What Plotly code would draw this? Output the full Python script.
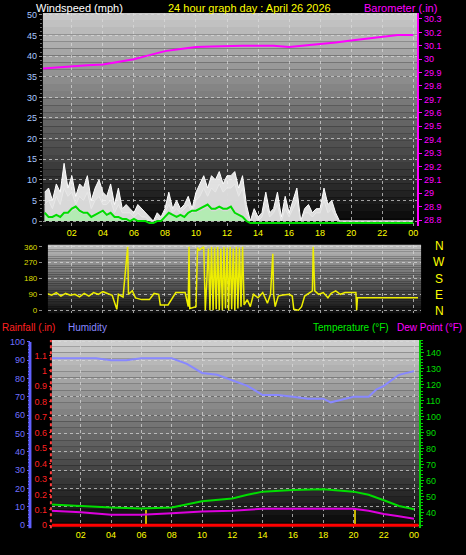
import plotly.graph_objects as go
import numpy as np

# ---------------- data ----------------
wind_t = [0.25*i for i in range(1, 97)]
gust = [7,8,5,9,7,14,8,11,6,9,8,11,
        5,8,10,7,6,9,4,8,3,4,3,2,
        4,3,2,1,0,2,1,3,7,3,5,3,
        4,6,3,7,9,11,8,11,10,12,9,11,
        11,12,8,11,4,0,3,1,2,7,2,3,
        7,1,6,2,5,8,0,3,4,2,3,3,
        8,4,5,2,0,0,0,0,0,0,0,0,
        0,0,0,0,0,0,0,0,0,0,0,0]
speed = [4,5,3,6,4,8,6,7,4,6,5,7,
         3,5,6,4,4,5,2,4,2,2,2,1,
         2,1,1,0,0,1,0,2,4,2,3,2,
         3,4,2,5,6,8,6,8,7,9,7,8,
         8,9,6,8,2,0,2,0,1,4,1,2,
         4,0,3,1,3,5,0,2,2,1,2,2,
         5,2,3,1,0,0,0,0,0,0,0,0,
         0,0,0,0,0,0,0,0,0,0,0,0]
avg = [2,1,1,1.5,1,2,2,3,3.5,2.5,2,2,
       1,1.5,2,2.5,1.5,2,1,1,0.5,0.5,0,0.5,
       0,0,0,-0.5,-0.5,0,0,1,2,1.5,1,1.5,
       1,2,2.5,2.5,3,3.5,4,3,3,3.5,3,3,
       3.5,2,1.5,1,0,-0.5,-0.5,-0.5,-0.5,-0.5,-0.5,-0.5,
       -0.5,-0.5,-0.5,-0.5,-0.5,-0.5,-0.5,-0.5,-0.5,-0.5,-0.5,-0.5,
       -0.5,-0.5,-0.5,-0.5,-0.5,-0.5,-0.5,-0.5,-0.5,-0.5,-0.5,-0.5,
       -0.5,-0.5,-0.5,-0.5,-0.5,-0.5,-0.5,-0.5,-0.5,-0.5,-0.5,-0.5]

baro_t = list(range(0, 25))
baro = [29.93,29.94,29.95,29.955,29.96,29.98,30.0,30.03,30.06,30.075,30.09,30.095,30.1,
        30.1,30.1,30.1,30.09,30.1,30.11,30.125,30.14,30.155,30.17,30.18,30.18]

dir_t = [0.1,0.4,0.7,1.0,1.3,1.6,1.9,2.2,2.5,2.8,3.1,3.4,3.7,4.0,4.3,4.6,4.9,5.0,5.3,5.6,5.65,5.9,
         6.1,6.5,7.0,7.3,7.6,7.7,8.2,8.5,8.7,9.3,9.5,9.55,9.6,10.0,10.1,10.2,10.5,10.6,10.8,10.9,
         11.0,11.1,11.2,11.3,11.4,11.5,11.6,11.7,11.8,11.9,12.0,12.1,12.2,12.3,12.4,12.5,12.6,12.7,
         12.8,12.9,13.0,13.1,13.3,13.5,13.7,14.0,14.3,14.6,14.8,14.95,15.0,15.1,15.3,15.5,16.0,16.2,
         16.3,16.6,16.8,17.0,17.3,17.5,17.55,17.65,17.9,18.2,18.5,18.7,19.0,19.3,19.6,20.0,20.3,20.35,
         20.4,24.3]
wind_dir = [80,95,85,100,80,95,85,90,75,95,80,100,90,105,95,85,5,90,75,360,90,110,
            70,60,60,95,90,30,30,70,100,100,20,360,10,20,355,340,360,0,350,0,
            360,0,355,5,360,0,350,0,360,10,355,0,360,5,350,0,360,10,
            355,20,360,30,60,20,90,70,100,40,90,320,90,20,80,85,90,80,
            5,0,20,80,100,110,360,110,90,100,70,95,110,90,100,100,100,0,
            70,70]

hum_t = [0,1,2,3,4,5,6,7,8,9,10,11,12,13,14,15,16,17,18,18.5,19,20,21,21.5,22,23,24]
humidity = [91,91,91,91,90,90,91,91,91,88,83,82,79,76,71,71,70,69,69,67,68,70,70,74,76,82,84]

td_t = [0,2,4,6,8,10,12,13,14,16,18,20,21,22,23,24]
temperature = [45,44,43,42.5,43,47,48.7,51,53,54,54.5,53,51,47.6,44,42]
dewpoint = [41,40,38.5,38.5,39.5,40.6,41,41.5,42.3,42.3,42.3,42.3,41,39,37.5,36]

rain_t = [0.1, 24.3]
rainfall = [0, 0]
event_hours = [6.3, 20.1]
event_level = [0.1, 0.1]

tick_vals = [2,4,6,8,10,12,14,16,18,20,22,24]
tick_text = ["02","04","06","08","10","12","14","16","18","20","22","00"]

# ---------------- figure ----------------
W, H = 466, 555
FONT = "Liberation Sans"
def py(p):
    return 1 - p / H
def px(p):
    return p / W

fig = go.Figure()

fig.add_trace(go.Scatter(x=wind_t, y=gust, mode="lines", line=dict(color="white", width=1),
                         fill="tozeroy", fillcolor="rgba(245,245,245,0.9)", xaxis="x", yaxis="y", hoverinfo="skip"))
fig.add_trace(go.Scatter(x=wind_t, y=speed, mode="lines", line=dict(color="#e8e8e8", width=1),
                         fill="tozeroy", fillcolor="rgba(215,215,215,0.9)", xaxis="x", yaxis="y"))
fig.add_trace(go.Scatter(x=wind_t, y=[max(a, 0) * 0.8 for a in avg], mode="lines", line=dict(color="#a0e8a0", width=0),
                         fill="tozeroy", fillcolor="rgba(170,240,170,0.8)", xaxis="x", yaxis="y"))
fig.add_trace(go.Scatter(x=wind_t, y=avg, mode="lines", line=dict(color="#00dd00", width=2),
                         xaxis="x", yaxis="y"))
fig.add_trace(go.Scatter(x=baro_t, y=baro, mode="lines", line=dict(color="#ff00ff", width=2),
                         xaxis="x", yaxis="y2"))
fig.add_trace(go.Scatter(x=dir_t, y=wind_dir, mode="lines", line=dict(color="#eeee00", width=1.5),
                         xaxis="x2", yaxis="y3"))
fig.add_trace(go.Scatter(x=hum_t, y=humidity, mode="lines", line=dict(color="#8888ff", width=2),
                         xaxis="x3", yaxis="y4"))
fig.add_trace(go.Scatter(x=td_t, y=temperature, mode="lines", line=dict(color="#00dd00", width=2),
                         xaxis="x3", yaxis="y6"))
fig.add_trace(go.Scatter(x=td_t, y=dewpoint, mode="lines", line=dict(color="#dd00dd", width=2),
                         xaxis="x3", yaxis="y6"))
fig.add_trace(go.Bar(x=event_hours, y=event_level, width=0.08, marker=dict(color="#c8b400", line=dict(width=0)),
                     xaxis="x3", yaxis="y5"))
fig.add_trace(go.Scatter(x=rain_t, y=rainfall, mode="lines", line=dict(color="#ff0000", width=3),
                         xaxis="x3", yaxis="y5"))

shapes = []
def gradient(x0, x1, y0, y1, top, bot, n=30):
    for i in range(n):
        f = i / (n - 1)
        c = int(top + (bot - top) * f)
        ya = y0 + (y1 - y0) * i / n
        yb = y0 + (y1 - y0) * (i + 1) / n
        shapes.append(dict(type="rect", xref="paper", yref="paper", x0=px(x0), x1=px(x1),
                           y0=py(yb), y1=py(ya), fillcolor=f"rgb({c},{c},{c})",
                           line=dict(width=0), layer="below"))
gradient(43, 418, 10, 225, 200, 8)
gradient(48, 422, 244, 313, 190, 15)
gradient(52, 420, 340, 530, 205, 8)
shapes.append(dict(type="line", xref="paper", yref="paper", x0=px(30), x1=px(30), y0=py(530), y1=py(342),
                   line=dict(color="#6060ff", width=3)))
shapes.append(dict(type="line", xref="paper", yref="paper", x0=px(51), x1=px(51), y0=py(530), y1=py(340),
                   line=dict(color="#ff4040", width=2, dash="dot")))

TF = 9
grid = dict(showgrid=True, gridcolor="rgba(220,220,220,0.7)", griddash="dot", gridwidth=1)
xcommon = dict(tickvals=tick_vals, ticktext=tick_text, tickfont=dict(color="#ffff00", size=TF, family=FONT),
               zeroline=False, ticks="", **grid)
fig.update_layout(
    width=W, height=H, margin=dict(l=0, r=0, t=0, b=0),
    paper_bgcolor="black", plot_bgcolor="rgba(0,0,0,0)", showlegend=False,
    font=dict(family=FONT, size=TF), shapes=shapes, bargap=0,
    xaxis=dict(domain=[px(43), px(418)], range=[0.135, 24.25], anchor="y", **xcommon),
    yaxis=dict(domain=[py(225), py(10)], range=[-1.2, 50.5], tickvals=list(range(0, 51, 5)),
               tickfont=dict(color="#a8c8ff", size=TF), zeroline=False, ticks="outside", ticklen=3,
               tickcolor="#888888", minor=dict(ticks="outside", ticklen=2, dtick=1, tickcolor="#666666"), **grid),
    yaxis2=dict(overlaying="y", side="right", anchor="x", range=[28.756, 30.345],
                tickvals=[28.8+0.1*i for i in range(16)], ticktext=[f"{28.8+0.1*i:.1f}".rstrip("0").rstrip(".") for i in range(16)],
                tickfont=dict(color="#ff00ff", size=TF), showgrid=False, zeroline=False,
                showline=True, linecolor="#ff00ff", linewidth=2, ticks="outside", ticklen=3, tickcolor="#ff00ff"),
    xaxis2=dict(domain=[px(48), px(422)], range=[0.46, 24.5], anchor="y3", showticklabels=False,
                **{k: v for k, v in xcommon.items() if k != "tickfont"}),
    yaxis3=dict(domain=[py(313), py(244)], range=[-17, 371], tickvals=[0, 90, 180, 270, 360],
                tickfont=dict(color="#dddd00", size=8), zeroline=False, ticks="outside", ticklen=3,
                tickcolor="#888888", **grid),
    xaxis3=dict(domain=[px(52), px(420)], range=[0.09, 24.33], anchor="y4", **xcommon),
    yaxis4=dict(domain=[py(530), py(340)], range=[-1.6, 101], anchor="free", position=px(30),
                tickvals=list(range(0, 101, 10)), tickfont=dict(color="#7070ff", size=TF),
                zeroline=False, ticks="outside", ticklen=3, tickcolor="#6060ff",
                minor=dict(ticks="outside", ticklen=2, dtick=2, tickcolor="#6060ff"), **grid),
    yaxis5=dict(overlaying="y4", anchor="x3", range=[-0.019, 1.2], tickvals=[round(0.1*i, 1) for i in range(12)],
                ticktext=["0"] + [f"{0.1*i:.1f}".rstrip("0").rstrip(".") for i in range(1, 12)],
                tickfont=dict(color="#ff2020", size=TF), showgrid=False, zeroline=False,
                ticks="outside", ticklen=2, tickcolor="#ff2020"),
    yaxis6=dict(overlaying="y4", side="right", anchor="x3", range=[30.06, 148.1],
                tickvals=list(range(40, 141, 10)), tickfont=dict(color="#00dd00", size=TF),
                showgrid=False, zeroline=False, showline=True, linecolor="#00cc00", linewidth=2,
                ticks="outside", ticklen=3, tickcolor="#00cc00",
                minor=dict(ticks="outside", ticklen=2, dtick=2, tickcolor="#00cc00")),
)

def label(text, x, y, color, size=11, anchor="left"):
    fig.add_annotation(text=text, xref="paper", yref="paper", x=px(x), y=py(y), showarrow=False,
                       xanchor=anchor, yanchor="middle", font=dict(color=color, size=size, family=FONT))

label("Windspeed (mph)", 34, 5, "white")
label("24 hour graph day : April 26 2026", 250, 5, "#ffff00", anchor="center")
label("Barometer (.in)", 440, 5, "#ff00ff", anchor="right")
for t, yy in zip(["N", "W", "S", "E", "N"], [245, 261, 279, 295, 311]):
    label(t, 440, yy, "#ffff00", size=12, anchor="center")
label("Rainfall (.in)", 0, 327, "#ff2020", size=10)
label("Humidity", 66, 327, "#8888ff", size=10)
label("Temperature (°F)", 312, 327, "#00ee00", size=10)
label("Dew Point (°F)", 465, 327, "#ff00ff", size=10, anchor="right")

fig.write_html("out.html", config={"displayModeBar": False},
               post_script="document.body.style.margin='0';document.body.style.background='black';")
